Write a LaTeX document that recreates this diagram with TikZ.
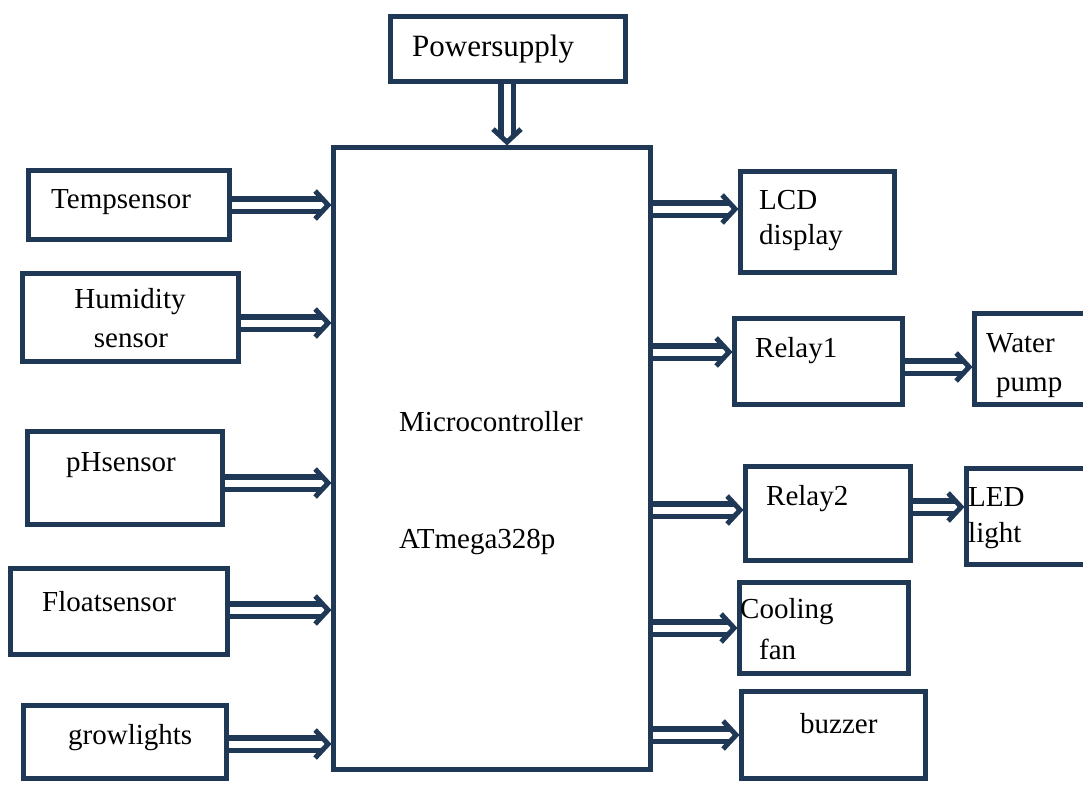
\documentclass[tikz,border=0pt]{standalone}
\usepackage{fontspec}
\setmainfont{Liberation Serif}
\usetikzlibrary{calc,decorations.markings}
\definecolor{navy}{RGB}{31,56,86}
\tikzset{
  box/.style={draw=navy, line width=4.8pt, rectangle, inner sep=0pt, fill=white},
  txt/.style={inner sep=0pt, anchor=west, font=\fontsize{29}{31}\selectfont, text=black},
  txtc/.style={inner sep=0pt, font=\fontsize{29}{31}\selectfont, text=black},
  arr/.style={draw=navy, line width=5.2pt, double=white, double distance=7pt,
    shorten >=8pt, postaction={decorate},
    decoration={markings, mark=at position 1 with {
      \draw[navy, shorten >=0pt, line width=5pt, line join=miter, line cap=butt]
        (-16pt,14pt) -- (-3pt,0pt) -- (-16pt,-14pt);}}},
}
\begin{document}
\begin{tikzpicture}[x=1pt, y=-1pt]
\useasboundingbox (0,0) rectangle (1083,784);
% boxes
\node[box, minimum width=235pt, minimum height=65pt] (pw) at (508,49) {};
\node[box, minimum width=317pt, minimum height=622pt] (mc) at (492,458.5) {};
\node[box, minimum width=201pt, minimum height=69pt] (temp) at (129,205) {};
\node[box, minimum width=216pt, minimum height=88pt] (hum) at (130.5,317.5) {};
\node[box, minimum width=195pt, minimum height=93pt] (ph) at (125,478) {};
\node[box, minimum width=217pt, minimum height=86pt] (flt) at (119,611.5) {};
\node[box, minimum width=203pt, minimum height=73pt] (grow) at (125,742) {};
\node[box, minimum width=154pt, minimum height=101pt] (lcd) at (817.5,222) {};
\node[box, minimum width=168pt, minimum height=86pt] (r1) at (818.5,361.5) {};
\node[box, minimum width=118pt, minimum height=91pt] (wp) at (1033.5,359) {};
\node[box, minimum width=165pt, minimum height=94pt] (r2) at (828,513.5) {};
\node[box, minimum width=126pt, minimum height=96pt] (led) at (1029.5,516.5) {};
\node[box, minimum width=169pt, minimum height=91pt] (cool) at (824,628) {};
\node[box, minimum width=184pt, minimum height=87pt] (buz) at (833.5,735) {};
% texts
\node[txt, font=\fontsize{31}{33}\selectfont] (tpw) at (412,49) {Powersupply};
\node[txt] (tmc1) at (399,422) {Microcontroller};
\node[txt] (tmc2) at (399,542) {ATmega328p};
\node[txt] (ttemp) at (51,202) {Tempsensor};
\node[txtc] (thum1) at (130,302) {Humidity};
\node[txtc] (thum2) at (131,341) {sensor};
\node[txt] (tph) at (66,465) {pHsensor};
\node[txt] (tflt) at (42,602) {Floatsensor};
\node[txt] (tgrow) at (68,738) {growlights};
\node[txt] (tlcd1) at (759,200) {LCD};
\node[txt] (tlcd2) at (759,238) {display};
\node[txt] (tr1) at (755,351) {Relay1};
\node[txt] (twp1) at (986,343) {Water};
\node[txt] (twp2) at (996,388) {pump};
\node[txt] (tr2) at (766,499) {Relay2};
\node[txt] (tled1) at (968,497) {LED};
\node[txt] (tled2) at (968,536) {light};
\node[txt] (tcool1) at (740,612) {Cooling};
\node[txt] (tcool2) at (759,649) {fan};
\node[txt] (tbuz) at (800,724) {buzzer};
% arrows
\draw[arr] (pw.south -| 507,0) -- (mc.north -| 507,0);
\draw[arr] (temp.east |- 0,205) -- (mc.west |- 0,205);
\draw[arr] (hum.east |- 0,323) -- (mc.west |- 0,323);
\draw[arr] (ph.east |- 0,483) -- (mc.west |- 0,483);
\draw[arr] (flt.east |- 0,610) -- (mc.west |- 0,610);
\draw[arr] (grow.east |- 0,744) -- (mc.west |- 0,744);
\draw[arr] (mc.east |- 0,209) -- (lcd.west |- 0,209);
\draw[arr] (mc.east |- 0,352) -- (r1.west |- 0,352);
\draw[arr] (r1.east |- 0,367) -- (wp.west |- 0,367);
\draw[arr] (mc.east |- 0,510) -- (r2.west |- 0,510);
\draw[arr] (r2.east |- 0,507) -- (led.west |- 0,507);
\draw[arr] (mc.east |- 0,628) -- (cool.west |- 0,628);
\draw[arr] (mc.east |- 0,735) -- (buz.west |- 0,735);
\end{tikzpicture}
\end{document}
